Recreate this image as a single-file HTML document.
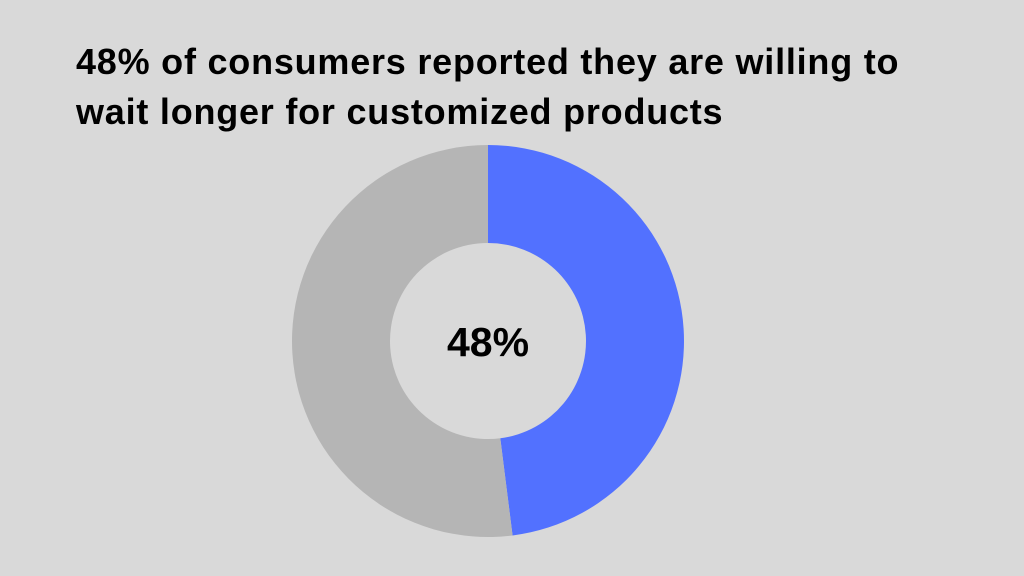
<!DOCTYPE html>
<html><head><meta charset="utf-8"><style>
html,body{margin:0;padding:0;background:#d9d9d9;}
#wrap{position:relative;width:1024px;height:576px;overflow:hidden;background:#d9d9d9;font-family:"Liberation Sans",sans-serif;}
#title{position:absolute;left:76px;top:37px;font-size:36px;font-weight:bold;line-height:50px;letter-spacing:0.78px;color:#000;margin:0;white-space:nowrap;}
svg{position:absolute;left:0;top:0;}
</style></head><body>
<div id="wrap">
<h1 id="title">48% of consumers reported they are willing to<br>wait longer for customized products</h1>
<svg id="chart" width="1024" height="576"></svg>
</div>
<script>
const categories = ["Willing to wait", "Not willing"];
const values = [48, 52];
const colors = ["#5271ff", "#b5b5b5"];
const centerLabel = "48%";

const ns = "http://www.w3.org/2000/svg";
const svg = document.getElementById("chart");
const cx = 488, cy = 341, R = 196, r = 98;
const total = values.reduce((a, b) => a + b, 0);
function angle(v) { return v / total * 2 * Math.PI - Math.PI / 2; }
function pt(rad, a) { return [cx + rad * Math.cos(a), cy + rad * Math.sin(a)]; }
let acc = 0;
values.forEach((v, i) => {
  const a0 = angle(acc), a1 = angle(acc + v);
  acc += v;
  const large = (a1 - a0) > Math.PI ? 1 : 0;
  const [x0, y0] = pt(R, a0), [x1, y1] = pt(R, a1);
  const [x2, y2] = pt(r, a1), [x3, y3] = pt(r, a0);
  const p = document.createElementNS(ns, "path");
  p.setAttribute("d", `M${x0},${y0} A${R},${R} 0 ${large} 1 ${x1},${y1} L${x2},${y2} A${r},${r} 0 ${large} 0 ${x3},${y3} Z`);
  p.setAttribute("fill", colors[i]);
  
  
  svg.appendChild(p);
});
const t = document.createElementNS(ns, "text");
t.setAttribute("x", cx);
t.setAttribute("y", cy + 15);
t.setAttribute("text-anchor", "middle");
t.setAttribute("font-family", "Liberation Sans, sans-serif");
t.setAttribute("font-weight", "bold");
t.setAttribute("font-size", "41");
t.setAttribute("fill", "#000");
t.textContent = centerLabel;


svg.appendChild(t);
</script>
</body></html>
